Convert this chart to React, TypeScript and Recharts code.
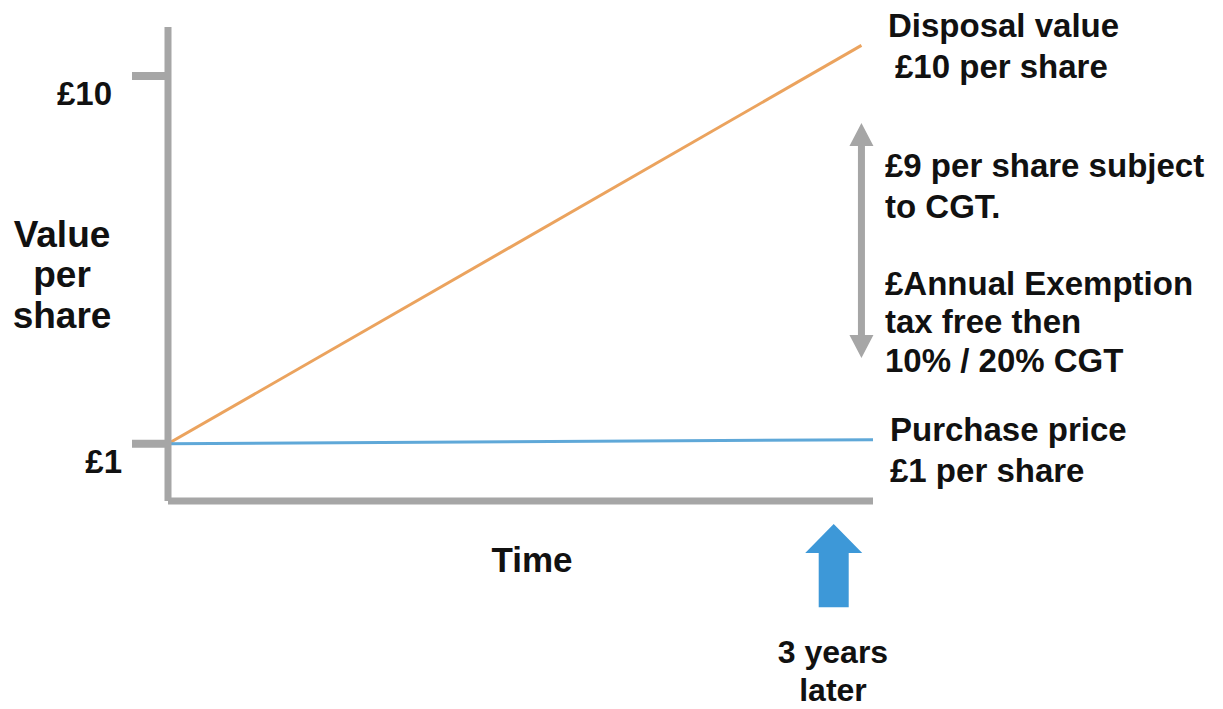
import React from 'react';
import {
  LineChart,
  Line,
  XAxis,
  YAxis,
  ReferenceLine,
  Customized,
} from 'recharts';

// x = years since purchase, y = value per share in £
const disposalYears = [0, 3];
const disposalValues = [1, 10.75];
const purchaseYears = [0, 3.05];
const purchaseValues = [1, 1.1];

const yTicks = [1, 10];
const yTickLabels = ['£1', '£10'];

// gain span marked by the grey double arrow, and the "3 years later" marker
const gainArrowYear = 3;
const gainArrowRange = [3.1, 8.85];
const laterArrowYear = 2.88;
const laterArrowRange = [-0.96, -3.0];

const disposalData = disposalYears.map((year, i) => ({ year, value: disposalValues[i] }));
const purchaseData = purchaseYears.map((year, i) => ({ year, value: purchaseValues[i] }));

const GREY = '#a6a6a6';
const FONT = '"Liberation Sans", Arial, sans-serif';

const YTick = (props: any) => {
  const { x, y, payload } = props;
  const idx = yTicks.indexOf(payload.value);
  const shift = payload.value === 10 ? -18 : -8;
  return (
    <text
      x={x + shift}
      y={y + 29}
      textAnchor="end"
      fontFamily={FONT}
      fontWeight="bold"
      fontSize={33}
      fill="#111"
    >
      {yTickLabels[idx]}
    </text>
  );
};

// double-headed vertical arrow
const DoubleArrow = (props: any) => {
  const { x1, y1, y2 } = props;
  const top = Math.min(y1, y2);
  const bot = Math.max(y1, y2);
  const hw = 12, hh = 23, sw = 3.5;
  const d = [
    `M${x1},${top}`,
    `L${x1 + hw},${top + hh}`,
    `L${x1 + sw},${top + hh}`,
    `L${x1 + sw},${bot - hh}`,
    `L${x1 + hw},${bot - hh}`,
    `L${x1},${bot}`,
    `L${x1 - hw},${bot - hh}`,
    `L${x1 - sw},${bot - hh}`,
    `L${x1 - sw},${top + hh}`,
    `L${x1 - hw},${top + hh}`,
    'Z',
  ].join(' ');
  return <path d={d} fill={GREY} />;
};

// fat blue up arrow
const UpArrow = (props: any) => {
  const { x1, y1, y2 } = props;
  const top = Math.min(y1, y2);
  const bot = Math.max(y1, y2);
  const hw = 28.5, hh = 29, sw = 15;
  const d = [
    `M${x1},${top}`,
    `L${x1 + hw},${top + hh}`,
    `L${x1 + sw},${top + hh}`,
    `L${x1 + sw},${bot}`,
    `L${x1 - sw},${bot}`,
    `L${x1 - sw},${top + hh}`,
    `L${x1 - hw},${top + hh}`,
    'Z',
  ].join(' ');
  return <path d={d} fill="#3d98d8" />;
};

const Annotations = () => {
  const t = (x: number, y: number, s: string, size = 33, anchor = 'start') => (
    <text
      key={s}
      x={x}
      y={y}
      textAnchor={anchor as any}
      fontFamily={FONT}
      fontWeight="bold"
      fontSize={size}
      fill="#111"
    >
      {s}
    </text>
  );
  return (
    <g>
      {t(888, 37, 'Disposal value')}
      {t(895, 78, '£10 per share')}
      {t(885, 177, '£9 per share subject')}
      {t(885, 218, 'to CGT.')}
      {t(885, 295, '£Annual Exemption')}
      {t(885, 333, 'tax free then')}
      {t(885, 372, '10% / 20% CGT')}
      {t(890, 441, 'Purchase price')}
      {t(890, 482, '£1 per share')}
      {t(62, 247, 'Value', 37, 'middle')}
      {t(62, 287, 'per', 37, 'middle')}
      {t(62, 328, 'share', 37, 'middle')}
      {t(532, 572, 'Time', 35, 'middle')}
      {t(833, 663, '3 years', 32, 'middle')}
      {t(833, 701, 'later', 32, 'middle')}
    </g>
  );
};

export default function App() {
  return (
    <div style={{ position: 'absolute', left: 0, top: 0, background: '#fff' }}>
      <LineChart
        width={1223}
        height={709}
        margin={{ top: 27, right: 350, bottom: 178, left: 108 }}
      >
        <XAxis
          type="number"
          dataKey="year"
          domain={[0, 3.05]}
          allowDataOverflow
          tick={false}
          tickLine={false}
          height={30}
          axisLine={{ stroke: GREY, strokeWidth: 7 }}
        />
        <YAxis
          type="number"
          dataKey="value"
          domain={[-0.4, 11.2]}
          allowDataOverflow
          ticks={yTicks}
          width={60}
          tickSize={36}
          tickLine={{ stroke: GREY, strokeWidth: 8 }}
          axisLine={{ stroke: GREY, strokeWidth: 7 }}
          tick={<YTick />}
        />
        <Line
          data={disposalData}
          dataKey="value"
          type="linear"
          stroke="#eba35e"
          strokeWidth={3}
          dot={false}
          isAnimationActive={false}
        />
        <Line
          data={purchaseData}
          dataKey="value"
          type="linear"
          stroke="#5fa8d8"
          strokeWidth={3}
          dot={false}
          isAnimationActive={false}
        />
        <ReferenceLine
          segment={[
            { x: gainArrowYear, y: gainArrowRange[0] },
            { x: gainArrowYear, y: gainArrowRange[1] },
          ]}
          ifOverflow="visible"
          shape={<DoubleArrow />}
        />
        <ReferenceLine
          segment={[
            { x: laterArrowYear, y: laterArrowRange[0] },
            { x: laterArrowYear, y: laterArrowRange[1] },
          ]}
          ifOverflow="visible"
          shape={<UpArrow />}
        />
        <Customized component={<Annotations />} />
      </LineChart>
    </div>
  );
}
